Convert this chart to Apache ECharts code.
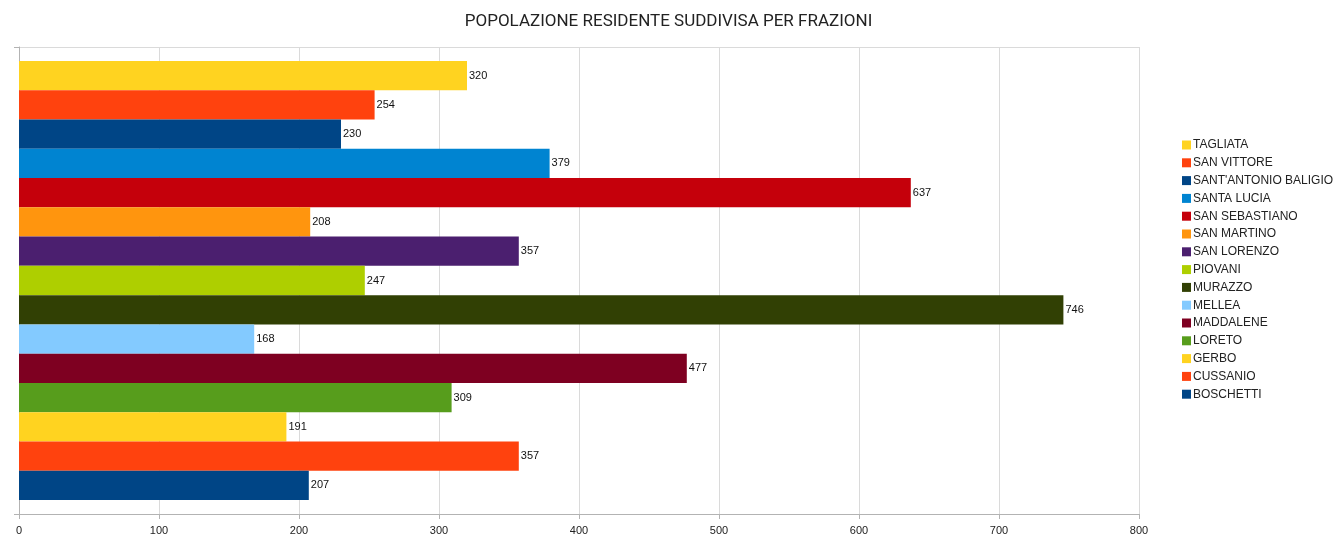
<!DOCTYPE html>
<html>
<head>
<meta charset="utf-8" />
<title>Popolazione residente</title>
<script src="https://cdn.jsdelivr.net/npm/echarts@6/dist/echarts.min.js"></script>
</head>
<body style="margin:0;background:#fff">
<div id="main" style="width:1337px;height:537px;"></div>
<script>
// frazioni, dall'alto verso il basso
var frazioni = ['TAGLIATA', 'SAN VITTORE', "SANT'ANTONIO BALIGIO", 'SANTA LUCIA', 'SAN SEBASTIANO',
  'SAN MARTINO', 'SAN LORENZO', 'PIOVANI', 'MURAZZO', 'MELLEA', 'MADDALENE', 'LORETO',
  'GERBO', 'CUSSANIO', 'BOSCHETTI'];
var residenti = [320, 254, 230, 379, 637, 208, 357, 247, 746, 168, 477, 309, 191, 357, 207];
var colori = ['#ffd320', '#ff420e', '#004586', '#0084d1', '#c5000b', '#ff950e', '#4b1f6f',
  '#aecf00', '#314004', '#83caff', '#7e0021', '#579d1c', '#ffd320', '#ff420e', '#004586'];
var xTicks = [0, 100, 200, 300, 400, 500, 600, 700, 800];

var myChart = echarts.init(document.getElementById('main'));

var series = frazioni.map(function (nome, i) {
  return {
    name: nome,
    type: 'bar',
    data: [residenti[i]],
    barGap: '0%',
    barCategoryGap: '6%',
    itemStyle: { color: colori[i] },
    label: {
      show: true,
      position: 'right',
      distance: 2,
      fontSize: 11,
      color: '#111',
      fontFamily: 'Liberation Sans'
    }
  };
});

var option = {
  animation: false,
  title: {
    text: 'POPOLAZIONE RESIDENTE SUDDIVISA PER FRAZIONI',
    left: 'center',
    top: 8,
    textStyle: { fontSize: 17, fontWeight: 'normal', color: '#222', fontFamily: 'Roboto' }
  },
  legend: {
    orient: 'vertical',
    left: 1182,
    top: 139,
    padding: 0,
    itemWidth: 9,
    itemHeight: 9,
    itemGap: 5.8,
    icon: 'rect',
    data: frazioni,
    textStyle: { fontSize: 12, lineHeight: 12, color: '#222', fontFamily: 'Liberation Sans', padding: [0, 0, 0, -3] }
  },
  grid: { left: 19, right: 198, top: 47, bottom: 23 },
  xAxis: {
    type: 'value',
    min: xTicks[0],
    max: xTicks[xTicks.length - 1],
    interval: 100,
    axisLine: { show: true, lineStyle: { color: '#b3b3b3' } },
    axisTick: { show: true, length: 5, lineStyle: { color: '#b3b3b3' } },
    axisLabel: { fontSize: 11, color: '#222', margin: 11, fontFamily: 'Liberation Sans' },
    splitLine: { show: true, lineStyle: { color: '#dadada' } }
  },
  yAxis: {
    type: 'category',
    inverse: true,
    data: [''],
    axisLine: { show: true, lineStyle: { color: '#b3b3b3' } },
    axisTick: { show: true, length: 5, lineStyle: { color: '#b3b3b3' } },
    axisLabel: { show: false },
    splitLine: { show: true, lineStyle: { color: '#dadada' } }
  },
  series: series
};
myChart.setOption(option);
</script>
</body>
</html>
